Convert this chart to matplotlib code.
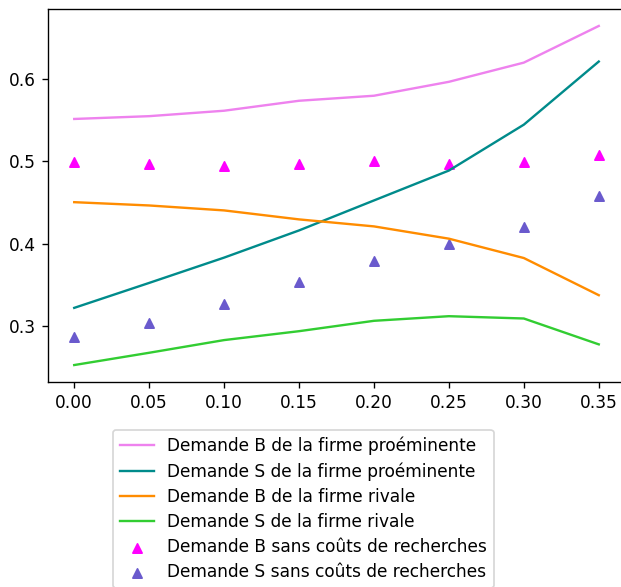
import matplotlib
matplotlib.use("Agg")
import matplotlib.pyplot as plt

x = [0.00, 0.05, 0.10, 0.15, 0.20, 0.25, 0.30, 0.35]
b_prom = [0.5516, 0.5550, 0.5616, 0.5737, 0.5798, 0.5967, 0.6200, 0.6645]
s_prom = [0.3223, 0.3526, 0.3833, 0.4163, 0.4527, 0.4890, 0.5447, 0.6213]
b_riv = [0.4506, 0.4466, 0.4406, 0.4297, 0.4212, 0.4063, 0.3828, 0.3377]
s_riv = [0.2529, 0.2678, 0.2832, 0.2940, 0.3066, 0.3122, 0.3094, 0.2780]
b_sans = [0.4990, 0.4971, 0.4950, 0.4970, 0.5010, 0.4970, 0.4990, 0.5080]
s_sans = [0.2872, 0.3040, 0.3267, 0.3538, 0.3792, 0.3994, 0.4203, 0.4575]

labels = [
    "Demande B de la firme proéminente",
    "Demande S de la firme proéminente",
    "Demande B de la firme rivale",
    "Demande S de la firme rivale",
    "Demande B sans coûts de recherches",
    "Demande S sans coûts de recherches",
]

W, H, dpi = 621, 587, 122
fig = plt.figure(figsize=(W / dpi, H / dpi), dpi=dpi)
ax = fig.add_axes([48 / W, (H - 382) / H, (625 - 48) / W, (382 - 9) / H])

ax.plot(x, b_prom, color="violet", label=labels[0], lw=1.4)
ax.plot(x, s_prom, color="darkcyan", label=labels[1], lw=1.4)
ax.plot(x, b_riv, color="darkorange", label=labels[2], lw=1.4)
ax.plot(x, s_riv, color="limegreen", label=labels[3], lw=1.4)
ax.scatter(x, b_sans, marker="^", color="magenta", label=labels[4], s=30)
ax.scatter(x, s_sans, marker="^", color="slateblue", label=labels[5], s=30)

ax.set_xticks(x)
ax.set_xticklabels([f"{v:.2f}" for v in x])
ax.set_yticks([0.3, 0.4, 0.5, 0.6])

fig.legend(loc="upper left", bbox_to_anchor=(113 / W, 1 - 430 / H),
           bbox_transform=fig.transFigure, borderaxespad=0, labelspacing=0.42)

fig.savefig("out.png", dpi=dpi)
